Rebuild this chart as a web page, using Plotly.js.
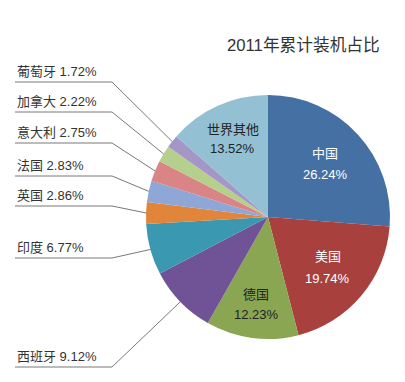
<!DOCTYPE html>
<html>
<head>
<meta charset="utf-8">
<script src="https://cdn.plot.ly/plotly-3.0.1.min.js"></script>
<style>html,body{margin:0;padding:0;background:#fff;}#chart{width:405px;height:382px;}</style>
</head>
<body>
<div id="chart"></div>
<script>
// Data
const countries = ['中国','美国','德国','西班牙','印度','英国','法国','意大利','加拿大','葡萄牙','世界其他'];
const shares = [26.24, 19.74, 12.23, 9.12, 6.77, 2.86, 2.83, 2.75, 2.22, 1.72, 13.52];
const sliceColors = ['#4470a3','#a8403e','#8ba653','#6f5396','#3a98b0','#e0853a','#8ea7d6','#d98585','#b5cf8c','#a596c8','#93c0d3'];
const titleText = '2011年累计装机占比';

// Layout config (pixels)
const W = 405, H = 382;
const CX = 268, CY = 217, R = 122;
const px = x => x / W;
const py = y => 1 - y / H;
const FONT = '"Liberation Sans", "Noto Sans CJK SC", sans-serif';

// inside labels: index -> [radius fraction, text color, half line gap]
const insideCfg = {0:[0.64,'#ffffff',10.5], 1:[0.64,'#ffffff',11], 2:[0.72,'#222222',10], 10:[0.70,'#222222',9.5]};
// outside labels: index -> underline y (px)
const outsideCfg = {9:82, 8:112, 7:143, 6:176, 5:206, 4:258, 3:367};
const LX0 = 15, LX1 = 112;

const total = shares.reduce((a,b)=>a+b,0);
const midAngles = [];
let cum = 0;
shares.forEach(v => { midAngles.push((cum + v/2) / total * 2 * Math.PI); cum += v; });
const pt = (ang, r) => [CX + r*Math.sin(ang), CY - r*Math.cos(ang)];

const annotations = [{
  text: titleText, x: px(303), y: py(46), xref:'paper', yref:'paper',
  showarrow:false, xanchor:'center', yanchor:'middle',
  font:{size:16.7, color:'#333', family:FONT}
}];
const shapes = [];

Object.keys(insideCfg).forEach(k => {
  const i = +k, [f, col, g] = insideCfg[k];
  const [x, y] = pt(midAngles[i], R*f);
  [[countries[i], -g], [shares[i].toFixed(2) + '%', g]].forEach(([t, dy]) => {
    annotations.push({
      text: t, x: px(x), y: py(y + dy), xref:'paper', yref:'paper', showarrow:false,
      xanchor:'center', yanchor:'middle', align:'center',
      font:{size:13, color: col, family:FONT}
    });
  });
});

Object.keys(outsideCfg).forEach(k => {
  const i = +k, uy = outsideCfg[k];
  const [ex, ey] = pt(midAngles[i], R);
  annotations.push({
    text: countries[i] + ' ' + shares[i].toFixed(2) + '%',
    x: px(LX0), y: py(uy - 1), xref:'paper', yref:'paper', showarrow:false,
    xanchor:'left', yanchor:'bottom', align:'left',
    font:{size:13, color:'#333', family:FONT}
  });
  shapes.push({
    type:'path', xref:'paper', yref:'paper',
    path: `M ${px(LX0)} ${py(uy)} L ${px(LX1)} ${py(uy)} L ${px(ex)} ${py(ey)}`,
    line:{color:'#555', width:0.8}
  });
});

const trace = {
  type:'pie', labels: countries, values: shares, sort:false, direction:'clockwise', rotation:0,
  marker:{colors: sliceColors, line:{width:0}},
  textinfo:'none', hoverinfo:'none', showlegend:false,
  domain:{x:[px(CX-R), px(CX+R)], y:[py(CY+R), py(CY-R)]}
};

Plotly.newPlot('chart', [trace], {
  width: W, height: H, margin:{l:0,r:0,t:0,b:0},
  paper_bgcolor:'#fff', showlegend:false,
  annotations: annotations, shapes: shapes
}, {displayModeBar:false, staticPlot:true});
</script>
</body>
</html>
